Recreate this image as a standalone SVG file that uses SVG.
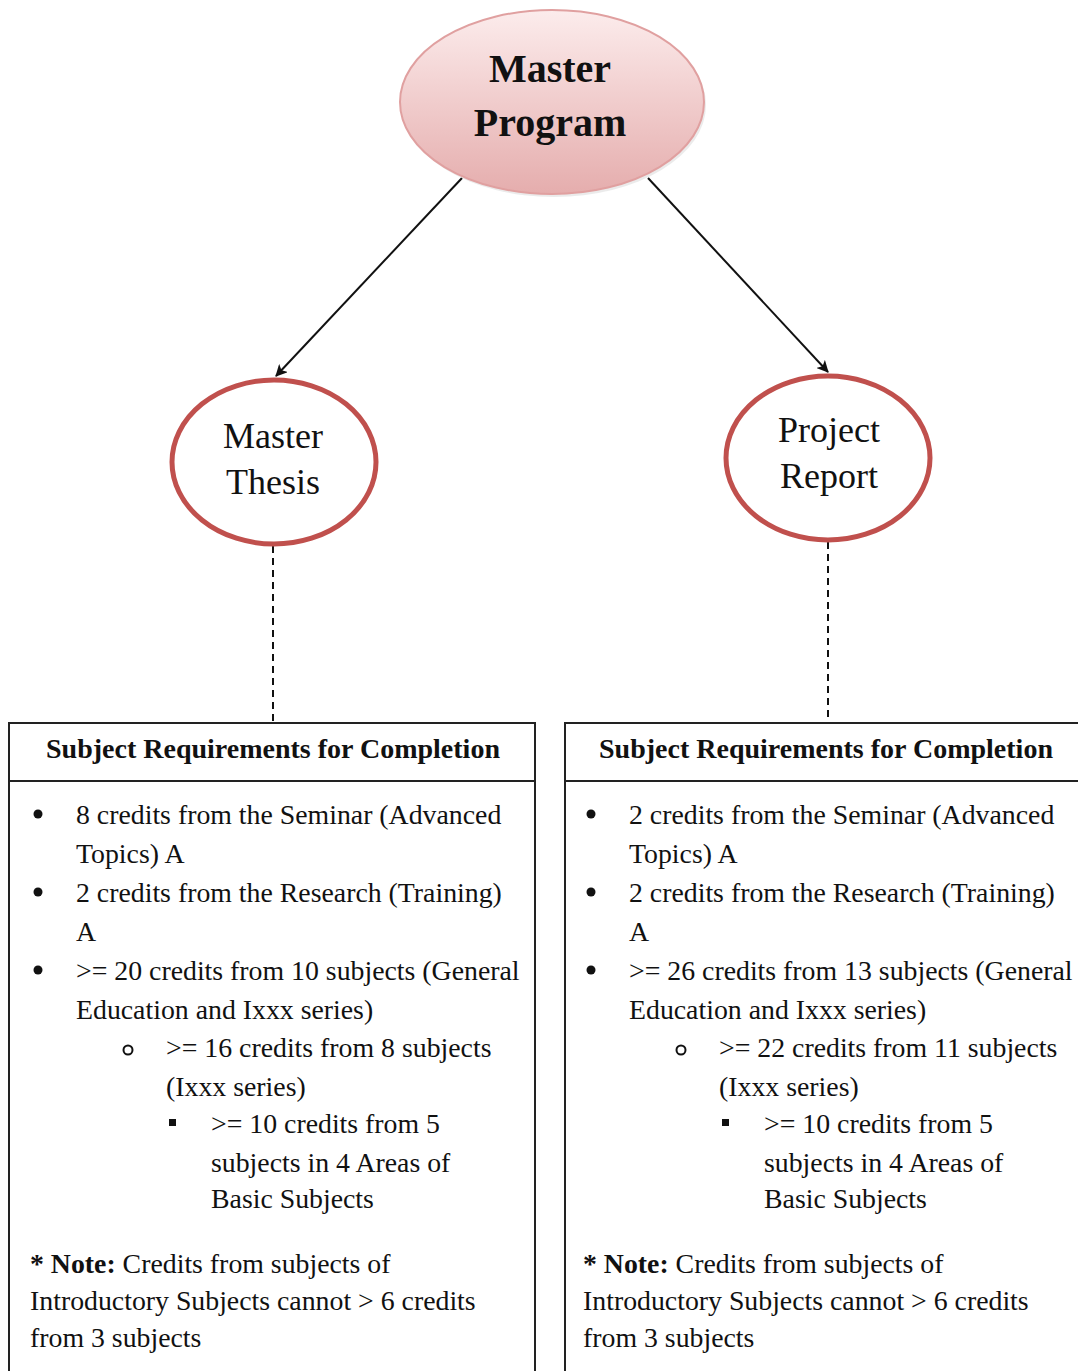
<svg xmlns="http://www.w3.org/2000/svg" width="1078" height="1371" viewBox="0 0 1078 1371">
<style>
text{font-family:"Liberation Serif","DejaVu Serif",serif;fill:#111}
.hd{font-size:28px;font-weight:bold}
.b{font-size:27.8px}
.top{font-size:40px;font-weight:bold;text-anchor:middle}
.circ{font-size:36px;text-anchor:middle}
.ring{fill:#fff;stroke:#c0504d;stroke-width:5}
.box{fill:#fff;stroke:#222;stroke-width:2}
.conn{stroke:#111;stroke-width:2;fill:none}
.dash{stroke:#111;stroke-width:2;stroke-dasharray:7,5;fill:none}
.dot{fill:#111}
.hollow{fill:none;stroke:#111;stroke-width:2}
</style>
<defs>
<linearGradient id="pink" x1="0" y1="0" x2="0" y2="1">
<stop offset="0" stop-color="#fcecec"/>
<stop offset="1" stop-color="#e5adad"/>
</linearGradient>
<marker id="arr" markerWidth="12" markerHeight="12" refX="11" refY="6" orient="auto" markerUnits="userSpaceOnUse">
<path d="M0,0 L12,6 L0,12 L3,6 z" fill="#111"/>
</marker>
</defs>
<rect width="1078" height="1371" fill="#fff"/>
<g id="connectors">
<line class="conn" x1="462" y1="178" x2="276" y2="376" marker-end="url(#arr)"/>
<line class="conn" x1="648" y1="178" x2="828" y2="372" marker-end="url(#arr)"/>
<line class="dash" x1="273" y1="546" x2="273" y2="722"/>
<line class="dash" x1="828" y1="542" x2="828" y2="722"/>
</g>
<g id="master-program">
<ellipse cx="554" cy="105" rx="152" ry="92" fill="#ddd" opacity="0.6"/>
<ellipse cx="552" cy="102" rx="152" ry="92" fill="url(#pink)" stroke="#e0a0a0" stroke-width="2"/>
<text class="top" x="550" y="82">Master</text>
<text class="top" x="550" y="136">Program</text>
</g>
<g id="master-thesis">
<ellipse class="ring" cx="274" cy="462" rx="102" ry="82"/>
<text class="circ" x="273" y="448">Master</text>
<text class="circ" x="273" y="494">Thesis</text>
</g>
<g id="project-report">
<ellipse class="ring" cx="828" cy="458" rx="102" ry="82"/>
<text class="circ" x="829" y="442">Project</text>
<text class="circ" x="829" y="488">Report</text>
</g>
<g id="req-left">
<rect class="box" x="9" y="723" width="526" height="660"/>
<line class="box" x1="9" y1="781" x2="535" y2="781"/>
<text class="hd" x="273" y="758" text-anchor="middle">Subject Requirements for Completion</text>
<circle class="dot" cx="38" cy="814" r="4.5"/>
<circle class="dot" cx="38" cy="892" r="4.5"/>
<circle class="dot" cx="38" cy="970" r="4.5"/>
<circle class="hollow" cx="128" cy="1050" r="4.5"/>
<rect class="dot" x="169" y="1119" width="7" height="7"/>
<g class="b">
<text x="76" y="824">8 credits from the Seminar (Advanced</text>
<text x="76" y="863">Topics) A</text>
<text x="76" y="902">2 credits from the Research (Training)</text>
<text x="76" y="941">A</text>
<text x="76" y="980">&gt;= 20 credits from 10 subjects (General</text>
<text x="76" y="1019">Education and Ixxx series)</text>
<text x="166" y="1057">&gt;= 16 credits from 8 subjects</text>
<text x="166" y="1096">(Ixxx series)</text>
<text x="211" y="1133">&gt;= 10 credits from 5</text>
<text x="211" y="1172">subjects in 4 Areas of</text>
<text x="211" y="1208">Basic Subjects</text>
<text x="30" y="1273"><tspan font-weight="bold">* Note:</tspan> Credits from subjects of</text>
<text x="30" y="1310">Introductory Subjects cannot &gt; 6 credits</text>
<text x="30" y="1347">from 3 subjects</text>
</g>
</g>
<g id="req-right">
<rect class="box" x="565" y="723" width="530" height="660"/>
<line class="box" x1="565" y1="781" x2="1095" y2="781"/>
<text class="hd" x="826" y="758" text-anchor="middle">Subject Requirements for Completion</text>
<circle class="dot" cx="591" cy="814" r="4.5"/>
<circle class="dot" cx="591" cy="892" r="4.5"/>
<circle class="dot" cx="591" cy="970" r="4.5"/>
<circle class="hollow" cx="681" cy="1050" r="4.5"/>
<rect class="dot" x="722" y="1119" width="7" height="7"/>
<g class="b">
<text x="629" y="824">2 credits from the Seminar (Advanced</text>
<text x="629" y="863">Topics) A</text>
<text x="629" y="902">2 credits from the Research (Training)</text>
<text x="629" y="941">A</text>
<text x="629" y="980">&gt;= 26 credits from 13 subjects (General</text>
<text x="629" y="1019">Education and Ixxx series)</text>
<text x="719" y="1057">&gt;= 22 credits from 11 subjects</text>
<text x="719" y="1096">(Ixxx series)</text>
<text x="764" y="1133">&gt;= 10 credits from 5</text>
<text x="764" y="1172">subjects in 4 Areas of</text>
<text x="764" y="1208">Basic Subjects</text>
<text x="583" y="1273"><tspan font-weight="bold">* Note:</tspan> Credits from subjects of</text>
<text x="583" y="1310">Introductory Subjects cannot &gt; 6 credits</text>
<text x="583" y="1347">from 3 subjects</text>
</g>
</g>
</svg>
